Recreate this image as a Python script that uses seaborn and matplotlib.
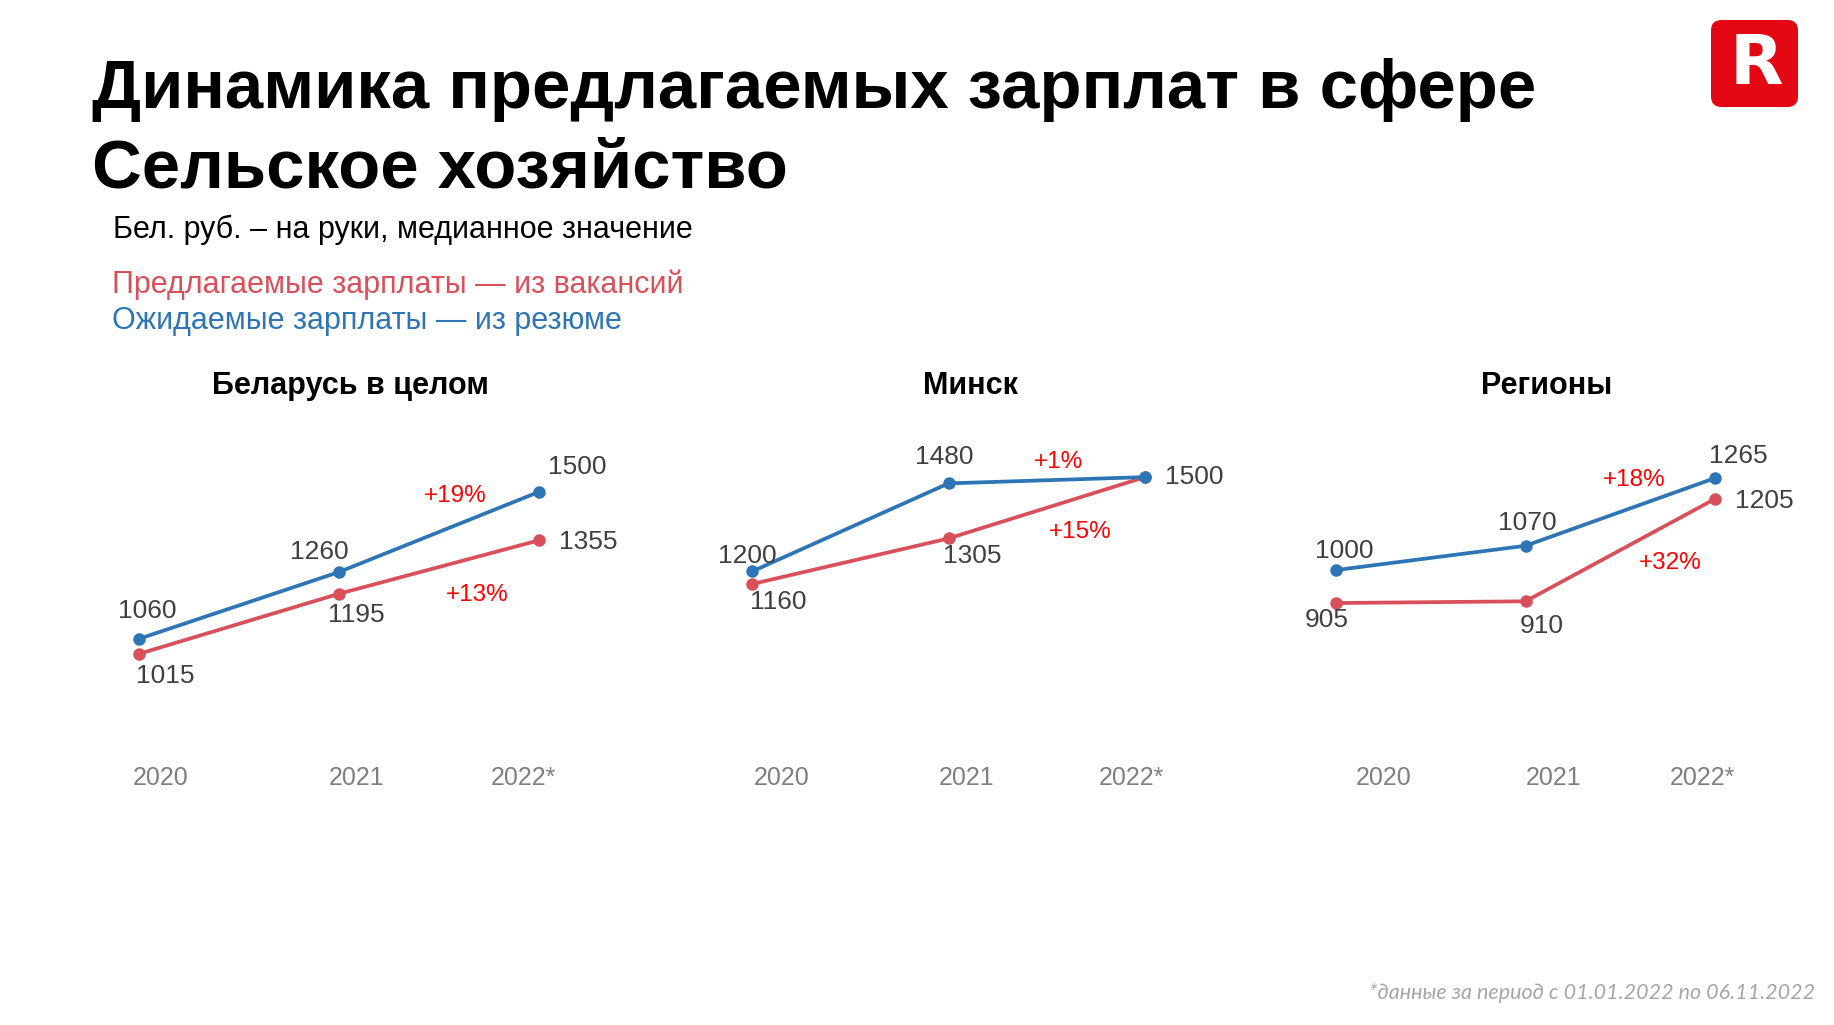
import pandas as pd
import seaborn as sns
import matplotlib.pyplot as plt
from matplotlib.patches import FancyBboxPatch

years = ["2020", "2021", "2022*"]
panels = ["Беларусь в целом", "Минск", "Регионы"]
offered = [[1015, 1195, 1355], [1160, 1305, 1500], [905, 910, 1205]]    # из вакансий
expected = [[1060, 1260, 1500], [1200, 1480, 1500], [1000, 1070, 1265]]  # из резюме

RED = "#d9505b"
BLUE = "#2e75b6"
W, H = 1834, 1025

sns.set_theme(style="white")
plt.rcParams["font.family"] = ["Liberation Sans", "DejaVu Sans"]
plt.rcParams["text.color"] = "black"
NARROW = ["Liberation Sans Narrow", "Liberation Sans", "DejaVu Sans"]

fig = plt.figure(figsize=(W / 100, H / 100), dpi=100)
fig.patch.set_facecolor("white")

# axes boxes in pixels: (x of 2020, x of 2022*), y limits
boxes = [(139, 539), (752, 1145), (1336, 1715)]
ylims = [(817, 1775), (728, 1745), (568, 1490)]
title_x = [350, 971, 1547]
year_dx = [[22, 18, -16], [30, 18, -14], [48, 28, -13]]
# label offsets in pixels (dx, dy up)
blue_off = [[(8, 28), (-20, 20), (38, 25)],
            [(-5, 15), (-4, 26), (49, 0)],
            [(8, 19), (2, 23), (23, 22)]]
red_off = [[(26, -22), (17, -21), (49, -2)],
           [(26, -18), (24, -18), None],
           [(-9, -17), (16, -25), (49, -2)]]
pct_blue_off = [(16, 36), (12, 18), (14, 32)]
pct_red_off = [(38, -28), (34, -24), (50, -13)]

top, bottom = 400, 720
for p in range(3):
    x0, x1 = boxes[p]
    ax = fig.add_axes([x0 / W, (H - bottom) / H, (x1 - x0) / W, (bottom - top) / H])
    df = pd.DataFrame({
        "idx": list(range(3)) * 2,
        "value": offered[p] + expected[p],
        "series": ["offered"] * 3 + ["expected"] * 3,
    })
    sns.lineplot(data=df, x="idx", y="value", hue="series",
                 hue_order=["offered", "expected"],
                 palette={"offered": RED, "expected": BLUE},
                 marker="o", markersize=9, markeredgewidth=0,
                 linewidth=2.7, legend=False, ax=ax, clip_on=False)
    ax.set_xlim(0, 2)
    ax.set_ylim(*ylims[p])
    ax.axis("off")

    for i in range(3):
        off = blue_off[p][i]
        ax.annotate(str(expected[p][i]), (i, expected[p][i]), xytext=off,
                    textcoords="offset pixels", ha="center", va="center",
                    fontsize=19, color="#404040")
        off = red_off[p][i]
        if off is not None:
            ax.annotate(str(offered[p][i]), (i, offered[p][i]), xytext=off,
                        textcoords="offset pixels", ha="center", va="center",
                        fontsize=19, color="#404040")
        ax.annotate(years[i], (i, 0), xycoords=("data", "axes fraction"),
                    xytext=(year_dx[p][i], -58), textcoords="offset pixels",
                    ha="center", va="center", fontsize=18, color="#7f7f7f",
                    family=NARROW)

    pb = round((expected[p][2] / expected[p][1] - 1) * 100)
    pr = round((offered[p][2] / offered[p][1] - 1) * 100)
    mb = (1.5, (expected[p][1] + expected[p][2]) / 2)
    mr = (1.5, (offered[p][1] + offered[p][2]) / 2)
    ax.annotate(f"+{pb}%", mb, xytext=pct_blue_off[p], textcoords="offset pixels",
                ha="center", va="center", fontsize=17.5, color="#ff0000", family=NARROW)
    ax.annotate(f"+{pr}%", mr, xytext=pct_red_off[p], textcoords="offset pixels",
                ha="center", va="center", fontsize=17.5, color="#ff0000", family=NARROW)

    fig.text(title_x[p] / W, 1 - 386 / H, panels[p], ha="center", va="center",
             fontsize=22, fontweight="bold", color="black")

# headline
fig.text(92 / W, 1 - 108 / H, "Динамика предлагаемых зарплат в сфере",
         fontsize=49.6, fontweight="bold", va="baseline", ha="left", color="black")
fig.text(92 / W, 1 - 188 / H, "Сельское хозяйство",
         fontsize=49.6, fontweight="bold", va="baseline", ha="left", color="black")
fig.text(113 / W, 1 - 238 / H, "Бел. руб. – на руки, медианное значение",
         fontsize=22, va="baseline", ha="left", color="black")
fig.text(112 / W, 1 - 293 / H, "Предлагаемые зарплаты — из вакансий",
         fontsize=22, va="baseline", ha="left", color=RED)
fig.text(112 / W, 1 - 329 / H, "Ожидаемые зарплаты — из резюме",
         fontsize=22, va="baseline", ha="left", color=BLUE)

fig.text(1815 / W, 1 - 993 / H, "*данные за период с 01.01.2022 по 06.11.2022",
         fontsize=15.5, style="italic", color="#a6a6a6", ha="right", va="center",
         family=["Lato", "DejaVu Sans"])

# logo
lax = fig.add_axes([1711 / W, (H - 107) / H, 87 / W, 87 / H])
lax.add_patch(FancyBboxPatch((0, 0), 1, 1,
                             boxstyle="round,pad=0,rounding_size=0.12",
                             facecolor="#e30613", edgecolor="none"))
lax.text(0.52, 0.49, "R", ha="center", va="center", fontsize=50,
         fontweight="heavy", color="white", family=["DejaVu Sans"])
lax.set_xlim(0, 1)
lax.set_ylim(0, 1)
lax.axis("off")

fig.savefig("out.png", dpi=100, facecolor="white")
